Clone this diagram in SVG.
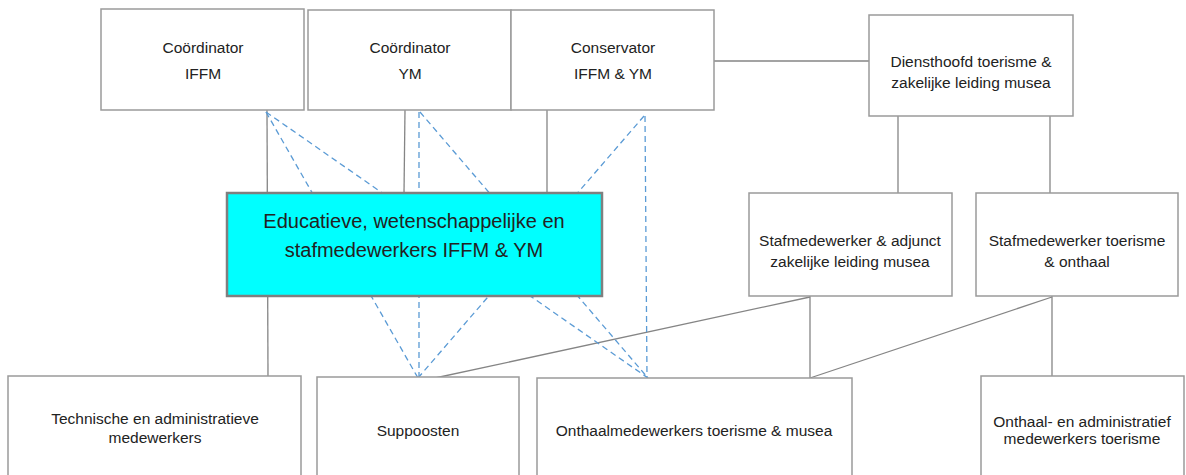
<svg xmlns="http://www.w3.org/2000/svg" width="1186" height="475" viewBox="0 0 1186 475">
<style>
.box{fill:#fff;stroke:#9a9a9a;stroke-width:1.5}
.hi{fill:#00ffff;stroke:#7f7f7f;stroke-width:2.5}
.ln{stroke:#858585;stroke-width:1.3;fill:none}
.dl{stroke:#5b9bd5;stroke-width:1.3;fill:none;stroke-dasharray:6 4}
text{font-family:"Liberation Sans",Arial,sans-serif;font-size:15.5px;fill:#222;text-anchor:middle}
.big{font-size:20px}
</style>
<rect width="1186" height="475" fill="#fff"/>
<g id="connectors">
<line class="ln" x1="714" y1="61" x2="869" y2="61"/>
<line class="ln" x1="267" y1="110" x2="268" y2="376"/>
<line class="ln" x1="405" y1="110" x2="404" y2="193"/>
<line class="ln" x1="547" y1="110" x2="547" y2="193"/>
<line class="ln" x1="898" y1="116" x2="898" y2="193"/>
<line class="ln" x1="1050" y1="116" x2="1050" y2="193"/>
<line class="ln" x1="810" y1="296" x2="810" y2="378"/>
<line class="ln" x1="1052" y1="296" x2="1052" y2="376"/>
<line class="ln" x1="810" y1="297" x2="435" y2="378"/>
<line class="ln" x1="1052" y1="297" x2="810" y2="378"/>
<line class="dl" x1="266" y1="112" x2="418" y2="378"/>
<line class="dl" x1="266" y1="112" x2="648" y2="378"/>
<line class="dl" x1="419" y1="112" x2="419" y2="378"/>
<line class="dl" x1="420" y1="112" x2="648" y2="378"/>
<line class="dl" x1="644" y1="116" x2="418" y2="378"/>
<line class="dl" x1="645" y1="116" x2="647" y2="378"/>
</g>
<g id="coord-iffm"><rect class="box" x="101" y="9" width="203" height="101"/><text x="203" y="53">Coördinator</text><text x="203" y="79">IFFM</text></g>
<g id="coord-ym"><rect class="box" x="308" y="10" width="203" height="100"/><text x="410" y="53">Coördinator</text><text x="410" y="79">YM</text></g>
<g id="conservator"><rect class="box" x="511" y="10" width="203" height="100"/><text x="613" y="53">Conservator</text><text x="613" y="79">IFFM &amp; YM</text></g>
<g id="diensthoofd"><rect class="box" x="869" y="15" width="204" height="101"/><text x="971" y="67">Diensthoofd toerisme &amp;</text><text x="971" y="88">zakelijke leiding musea</text></g>
<g id="educatieve"><rect class="hi" x="227" y="193" width="375" height="103"/><text class="big" x="414" y="228">Educatieve, wetenschappelijke en</text><text class="big" x="414" y="257">stafmedewerkers IFFM &amp; YM</text></g>
<g id="staf-adjunct"><rect class="box" x="749" y="193" width="203" height="103"/><text x="850" y="246">Stafmedewerker &amp; adjunct</text><text x="850" y="267">zakelijke leiding musea</text></g>
<g id="staf-toerisme"><rect class="box" x="976" y="193" width="202" height="103"/><text x="1077" y="246">Stafmedewerker toerisme</text><text x="1077" y="267">&amp; onthaal</text></g>
<g id="technische"><rect class="box" x="8" y="376" width="293" height="104"/><text x="155" y="424">Technische en administratieve</text><text x="155" y="443">medewerkers</text></g>
<g id="suppoosten"><rect class="box" x="317" y="377" width="202" height="103"/><text x="418" y="436">Suppoosten</text></g>
<g id="onthaalmedewerkers"><rect class="box" x="537" y="378" width="315" height="102"/><text x="694" y="436">Onthaalmedewerkers toerisme &amp; musea</text></g>
<g id="onthaal-admin"><rect class="box" x="981" y="376" width="203" height="104"/><text x="1082" y="427">Onthaal- en administratief</text><text x="1082" y="444">medewerkers toerisme</text></g>
</svg>
